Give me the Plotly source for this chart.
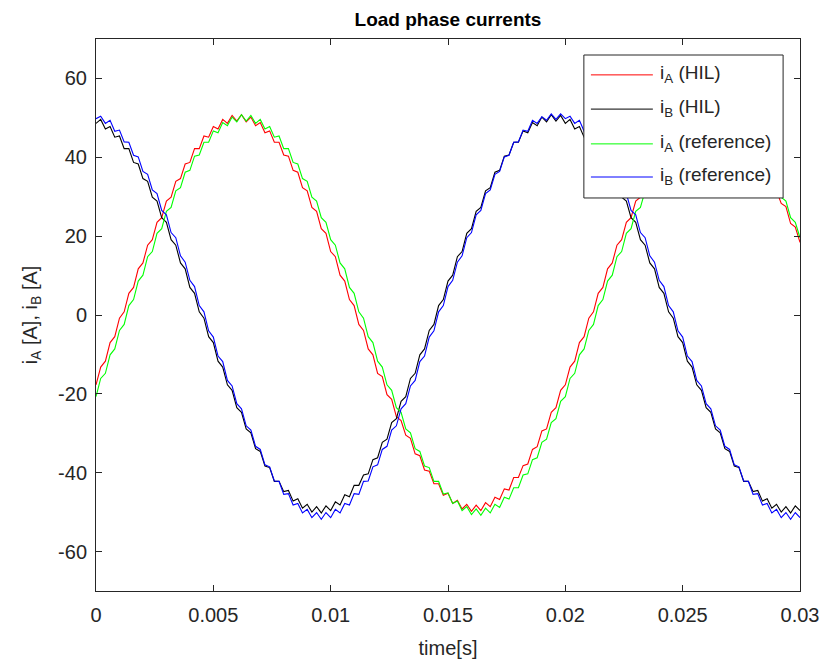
import plotly.graph_objects as go

# ---- data ----
TIME_STEP = 0.0002  # s between samples

ia_hil = [-17.7, -13.2, -11.7, -7.0, -5.5, -0.8, 0.8, 5.5, 7.0, 11.7,
          13.2, 17.7, 19.1, 23.5, 24.7, 28.9, 29.9, 33.9, 34.6, 38.3,
          38.7, 42.2, 42.2, 45.4, 45.1, 47.8, 47.2, 49.6, 48.6, 50.6,
          49.2, 50.8, 49.0, 50.2, 48.0, 48.8, 46.2, 46.7, 43.8, 43.8,
          40.6, 40.3, 36.7, 36.2, 32.3, 31.5, 27.3, 26.3, 21.9, 20.7,
          16.1, 14.8, 10.1, 8.6, 3.9, 2.4, -2.4, -3.9, -8.6, -10.1,
          -14.8, -15.6, -20.2, -21.4, -25.8, -26.8, -30.5, -31.3, -35.2, -35.7,
          -39.3, -39.6, -42.8, -42.8, -45.7, -45.2, -47.8, -47.0, -49.2, -48.0,
          -49.8, -48.2, -49.6, -47.6, -48.6, -46.2, -46.8, -44.1, -44.4, -41.2,
          -41.2, -38.2, -37.8, -34.1, -33.4, -29.4, -28.9, -24.7, -23.5, -19.1,
          -17.7, -13.2, -11.7, -7.0, -5.5, -0.8, 0.8, 5.5, 7.0, 11.7,
          13.2, 17.7, 19.1, 23.5, 24.7, 28.9, 29.9, 33.9, 34.6, 38.3,
          38.7, 42.2, 42.2, 45.4, 45.1, 47.8, 47.2, 49.6, 48.6, 50.6,
          49.2, 50.8, 49.0, 50.2, 48.0, 48.8, 46.2, 46.7, 43.8, 43.8,
          40.6, 40.3, 36.7, 36.2, 32.3, 31.5, 28.3, 27.5, 23.2, 22.3,
          18.4]

ib_hil = [48.6, 49.6, 47.2, 47.8, 45.1, 45.4, 42.2, 42.2, 38.7, 38.3,
          34.6, 33.9, 29.9, 28.9, 24.7, 23.5, 19.1, 17.7, 13.2, 11.7,
          7.0, 5.5, 0.8, -0.8, -5.5, -7.0, -11.7, -13.2, -17.7, -19.1,
          -23.5, -24.7, -28.9, -29.9, -33.9, -34.6, -38.3, -38.7, -42.2, -42.2,
          -44.8, -44.5, -47.2, -46.6, -49.0, -48.0, -50.0, -48.6, -50.2, -48.4,
          -49.6, -47.4, -48.2, -45.6, -46.1, -43.2, -43.2, -40.6, -40.3, -36.7,
          -36.2, -32.3, -31.5, -27.3, -26.3, -21.9, -20.7, -16.1, -14.8, -10.1,
          -8.6, -3.9, -2.4, 2.4, 3.9, 8.6, 10.1, 14.8, 16.1, 20.7,
          21.9, 26.3, 27.3, 31.5, 32.3, 36.2, 36.7, 40.3, 40.6, 43.8,
          43.8, 46.7, 46.2, 48.8, 48.0, 50.2, 49.0, 50.8, 49.2, 50.6,
          48.6, 49.6, 47.2, 47.8, 45.1, 45.4, 42.2, 42.2, 38.7, 38.3,
          34.6, 33.9, 29.9, 28.9, 24.7, 23.5, 19.1, 17.7, 13.2, 11.7,
          7.0, 5.5, 0.8, -0.8, -5.5, -7.0, -11.7, -13.2, -17.7, -19.1,
          -23.5, -24.7, -28.9, -29.9, -33.9, -34.6, -38.3, -38.7, -42.2, -42.2,
          -44.8, -44.5, -47.2, -46.6, -49.0, -48.0, -50.0, -48.6, -50.2, -48.4,
          -49.6]

ia_ref = [-20.7, -16.1, -14.8, -10.1, -8.6, -3.9, -2.4, 2.4, 3.9, 8.6,
          10.1, 14.8, 16.1, 20.7, 21.9, 26.3, 27.3, 31.5, 32.3, 36.2,
          36.7, 40.3, 40.6, 43.8, 43.8, 46.7, 46.2, 48.8, 48.0, 50.2,
          49.0, 50.8, 49.2, 50.6, 48.6, 49.6, 47.2, 47.8, 45.1, 45.4,
          42.2, 42.2, 38.7, 38.3, 34.6, 33.9, 29.9, 28.9, 24.7, 23.5,
          19.1, 17.7, 13.2, 11.7, 7.0, 5.5, 0.8, -0.8, -5.5, -7.0,
          -11.7, -13.2, -17.7, -19.1, -23.5, -24.7, -28.9, -29.9, -33.9, -34.6,
          -38.3, -38.7, -42.2, -42.2, -45.4, -45.1, -47.8, -47.2, -49.6, -48.6,
          -50.6, -49.2, -50.8, -49.0, -50.2, -48.0, -48.8, -46.2, -46.7, -43.8,
          -43.8, -40.6, -40.3, -36.7, -36.2, -32.3, -31.5, -27.3, -26.3, -21.9,
          -20.7, -16.1, -14.8, -10.1, -8.6, -3.9, -2.4, 2.4, 3.9, 8.6,
          10.1, 14.8, 16.1, 20.7, 21.9, 26.3, 27.3, 31.5, 32.3, 36.2,
          36.7, 40.3, 40.6, 43.8, 43.8, 46.7, 46.2, 48.8, 48.0, 50.2,
          49.0, 50.8, 49.2, 50.6, 48.6, 49.6, 47.2, 47.8, 45.1, 45.4,
          42.2, 42.2, 38.7, 38.3, 34.6, 33.9, 29.9, 28.9, 24.7, 23.5,
          19.6]

ib_ref = [49.8, 50.4, 48.6, 49.4, 46.6, 46.9, 43.9, 43.8, 40.5, 40.1,
          36.4, 35.7, 31.7, 30.8, 26.5, 25.4, 20.9, 19.6, 15.0, 13.4,
          8.8, 7.2, 2.4, 0.8, -4.0, -5.6, -10.4, -11.8, -16.6, -18.0,
          -22.5, -23.8, -28.1, -29.2, -33.3, -34.1, -38.0, -38.5, -42.1, -42.2,
          -45.5, -45.3, -48.2, -47.8, -50.2, -49.3, -51.4, -50.1, -51.8, -50.1,
          -51.4, -49.3, -50.2, -47.8, -48.2, -45.3, -45.5, -42.2, -42.1, -38.5,
          -38.0, -34.1, -33.3, -29.2, -28.1, -23.8, -22.5, -18.0, -16.6, -11.8,
          -10.4, -5.6, -4.0, 0.8, 2.4, 7.2, 8.8, 13.4, 15.0, 19.6,
          20.9, 25.4, 26.5, 30.8, 31.7, 35.7, 36.4, 40.1, 40.5, 43.8,
          43.9, 46.9, 46.6, 49.4, 48.6, 50.3, 49.4, 51.0, 49.6, 51.0,
          49.8, 50.4, 48.6, 49.4, 46.6, 46.9, 43.9, 43.8, 40.5, 40.1,
          36.4, 35.7, 31.7, 30.8, 26.5, 25.4, 20.9, 19.6, 15.0, 13.4,
          8.8, 7.2, 2.4, 0.8, -4.0, -5.6, -10.4, -11.8, -16.6, -18.0,
          -22.5, -23.8, -28.1, -29.2, -33.3, -34.1, -38.0, -38.5, -42.1, -42.2,
          -45.5, -45.3, -48.2, -47.8, -50.2, -49.3, -51.4, -50.1, -51.8, -50.1,
          -51.4]

series_names = ["i<sub>A</sub> (HIL)", "i<sub>B</sub> (HIL)",
                "i<sub>A</sub> (reference)", "i<sub>B</sub> (reference)"]
series_values = [ia_hil, ib_hil, ia_ref, ib_ref]
series_colors = ["#ff0000", "#000000", "#00ff00", "#0000ff"]

x_tick_vals = [0, 0.005, 0.01, 0.015, 0.02, 0.025, 0.03]
x_tick_text = ["0", "0.005", "0.01", "0.015", "0.02", "0.025", "0.03"]
y_tick_vals = [-60, -40, -20, 0, 20, 40, 60]
y_tick_text = ["-60", "-40", "-20", "0", "20", "40", "60"]

time = [k * TIME_STEP for k in range(len(ia_hil))]

AX = "#262626"
FONT = "Liberation Sans, Arial, Helvetica, sans-serif"

fig = go.Figure()
for name, vals, col in zip(series_names, series_values, series_colors):
    fig.add_trace(go.Scatter(x=time, y=vals, mode="lines", name=name,
                             line=dict(color=col, width=1.1), showlegend=False))

axis_common = dict(showline=True, linecolor=AX, linewidth=1, mirror="ticks",
                   ticks="inside", ticklen=6, tickcolor=AX, tickwidth=1,
                   showgrid=False, zeroline=False, automargin=False,
                   tickfont=dict(family=FONT, size=20, color=AX))

fig.update_xaxes(range=[0, 0.03], tickvals=x_tick_vals, ticktext=x_tick_text,
                 ticklabelstandoff=6,
                 title=dict(text="time[s]", font=dict(family=FONT, size=20, color=AX)),
                 **axis_common)
fig.update_yaxes(range=[-70, 70], tickvals=y_tick_vals, ticktext=y_tick_text,
                 ticklabelstandoff=4,
                 title=dict(text="i<sub>A</sub> [A], i<sub>B</sub> [A]",
                            font=dict(family=FONT, size=20, color=AX)),
                 **axis_common)

# legend box drawn in MATLAB style
L_X0, L_X1, L_Y0, L_Y1 = 0.693, 0.976, 0.712, 0.971
row_y = [0.935, 0.873, 0.810, 0.750]
shapes = [dict(type="rect", xref="paper", yref="paper", x0=L_X0, x1=L_X1, y0=L_Y0, y1=L_Y1,
               line=dict(color=AX, width=1), fillcolor="white", layer="above")]
annotations = []
for name, col, yy in zip(series_names, series_colors, row_y):
    shapes.append(dict(type="line", xref="paper", yref="paper", x0=0.703, x1=0.791, y0=yy, y1=yy,
                       line=dict(color=col, width=1), layer="above"))
    annotations.append(dict(xref="paper", yref="paper", x=0.799, y=yy + 0.002, xanchor="left",
                            yanchor="middle", text=name, showarrow=False,
                            font=dict(family=FONT, size=19, color=AX)))

fig.update_layout(
    width=824, height=663,
    margin=dict(l=96, r=24, t=39, b=72),
    paper_bgcolor="white", plot_bgcolor="white",
    title=dict(text="<b>Load phase currents</b>", x=0.5, xref="paper", xanchor="center",
               y=1 - 19 / 663, yref="container", yanchor="middle",
               font=dict(family=FONT, size=19, color="#000000")),
    shapes=shapes, annotations=annotations, showlegend=False,
)

fig.write_html("out.html")
